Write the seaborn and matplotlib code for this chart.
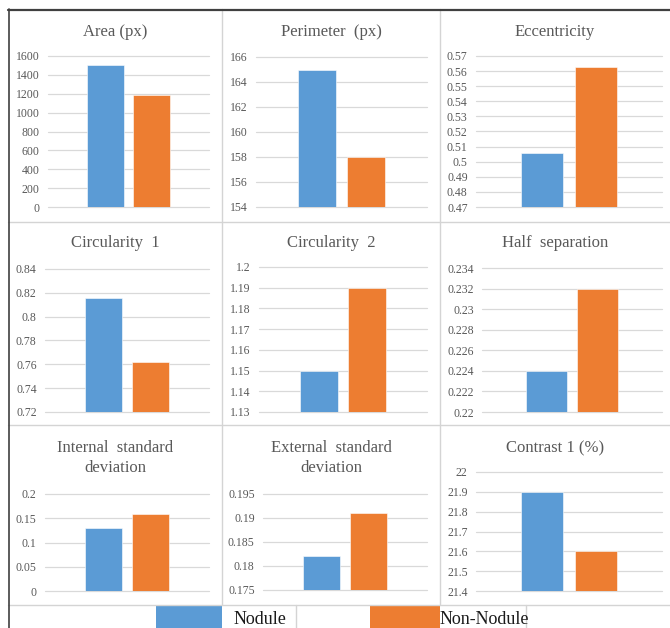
import numpy as np
import pandas as pd
import matplotlib
matplotlib.use("Agg")
import matplotlib.pyplot as plt
from matplotlib.lines import Line2D
from matplotlib.patches import Rectangle
import seaborn as sns

# ---- data -------------------------------------------------------------
groups = ["Nodule", "Non-Nodule"]
colors = ["#5B9BD5", "#ED7D31"]

titles = [
    "Area (px)", "Perimeter  (px)", "Eccentricity",
    "Circularity  1", "Circularity  2", "Half  separation",
    "Internal  standard\ndeviation", "External  standard\ndeviation", "Contrast 1 (%)",
]
nodule = [1505, 165, 0.506, 0.816, 1.15, 0.224, 0.129, 0.182, 21.9]
non_nodule = [1190, 158, 0.563, 0.762, 1.19, 0.232, 0.159, 0.191, 21.6]

# y-axis range (min, max, step) for every panel
y_ranges = [
    (0, 1600, 200), (154, 166, 2), (0.47, 0.57, 0.01),
    (0.72, 0.84, 0.02), (1.13, 1.20, 0.01), (0.220, 0.234, 0.002),
    (0.0, 0.2, 0.05), (0.175, 0.195, 0.005), (21.4, 22.0, 0.1),
]

# ---- layout (pixels of a 670 x 628 canvas) ---------------------------
W, H = 670, 628
axes_px = [  # left, top, right, bottom
    (48, 56, 209, 207), (256, 57, 427, 207), (476, 56, 662, 207),
    (45, 269, 209, 412), (259, 267, 427, 412), (482, 268, 662, 412),
    (45, 494, 209, 591), (263, 494, 427, 590), (476, 472, 662, 591),
]
col_edges = [8, 222, 440, 670]
row_edges = [9, 222, 425, 605]
title_y = [32, 32, 32, 243, 243, 243, 458, 458, 448]

sns.set_style("white")
plt.rcParams["font.family"] = "serif"
plt.rcParams["font.serif"] = ["Liberation Serif", "DejaVu Serif"]

fig = plt.figure(figsize=(W / 100, H / 100), dpi=100)


def fx(x):
    return x / W


def fy(y):
    return 1 - y / H


def fmt(v):
    return "{:g}".format(round(v, 6))


for i, title in enumerate(titles):
    l, t, r, b = axes_px[i]
    ax = fig.add_axes([fx(l), fy(b), (r - l) / W, (b - t) / H])
    df = pd.DataFrame({"metric": [title, title], "group": groups,
                       "value": [nodule[i], non_nodule[i]]})
    sns.barplot(data=df, x="metric", y="value", hue="group", hue_order=groups,
                palette=colors, saturation=1, width=0.572, gap=0.21,
                edgecolor="white", linewidth=0.4, legend=False, ax=ax)
    lo, hi, step = y_ranges[i]
    ticks = np.round(np.arange(lo, hi + step / 2, step), 6)
    ax.set_xlim(-0.5, 0.5)
    ax.set_ylim(lo, hi)
    ax.set_yticks(ticks)
    ax.set_yticklabels([fmt(v) for v in ticks])
    ax.set_xticks([])
    ax.set_xlabel("")
    ax.set_ylabel("")
    ax.set_facecolor("none")
    ax.set_axisbelow(True)
    ax.yaxis.grid(True, color="#d9d9d9", linewidth=0.9)
    for gl in ax.get_ygridlines():
        gl.set_clip_on(False)
    for s in ax.spines.values():
        s.set_visible(False)
    ax.tick_params(axis="y", length=0, pad=6, labelsize=8.5, labelcolor="#595959")

    row, col = divmod(i, 3)
    cx = (col_edges[col] + col_edges[col + 1]) / 2
    lines = title.split("\n")
    for k, line in enumerate(lines):
        fig.text(fx(cx), fy(title_y[i] - 10 * (len(lines) - 1) + 20 * k), line,
                 ha="center", va="center", fontsize=12, color="#595959")

# ---- cell borders ------------------------------------------------------
light = "#d4d4d4"
for x in col_edges[1:3]:
    fig.add_artist(Line2D([fx(x), fx(x)], [fy(9), fy(605)], color=light, lw=1.0))
for y in row_edges[1:]:
    fig.add_artist(Line2D([fx(8), fx(670)], [fy(y), fy(y)], color=light, lw=1.0))
for x in (296, 526):
    fig.add_artist(Line2D([fx(x), fx(x)], [fy(605), fy(628)], color=light, lw=1.0))
fig.add_artist(Line2D([fx(8), fx(670)], [fy(9.5), fy(9.5)], color="#404040", lw=1.6))
fig.add_artist(Line2D([fx(8.5), fx(8.5)], [fy(9), fy(628)], color="#404040", lw=1.2))

# ---- legend row --------------------------------------------------------
legend_boxes = [(156, 222), (370, 440)]
legend_text_x = [234, 440]
for (x0, x1), tx, name, c in zip(legend_boxes, legend_text_x, groups, colors):
    fig.add_artist(Rectangle((fx(x0), fy(628)), (x1 - x0) / W, 22.5 / H,
                             facecolor=c, edgecolor="none"))
    fig.text(fx(tx), fy(624), name, ha="left", va="baseline",
             fontsize=13, color="#1a1a1a")

fig.savefig("out.png", dpi=100, facecolor="white")
